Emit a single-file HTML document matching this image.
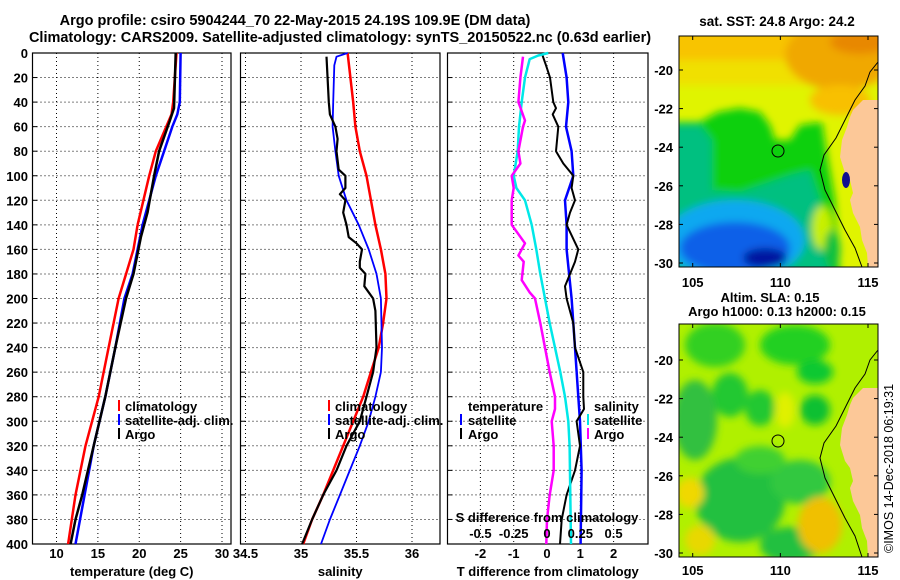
<!DOCTYPE html>
<html><head><meta charset="utf-8"><style>
html,body{margin:0;padding:0;background:#fff;}
svg{display:block;font-family:"Liberation Sans",Arial,sans-serif;font-weight:bold;}
</style></head><body>
<svg id="fig" width="900" height="580" viewBox="0 0 900 580" xmlns="http://www.w3.org/2000/svg">
<defs>
<filter id="blur" x="-20%" y="-20%" width="140%" height="140%"><feGaussianBlur stdDeviation="4"/></filter>
<clipPath id="clipSST"><rect x="679" y="36" width="199" height="231"/></clipPath>
<clipPath id="clipSLA"><rect x="679" y="324" width="199" height="233"/></clipPath>
</defs>
<text x="295" y="25" font-size="14.5" text-anchor="middle">Argo profile: csiro 5904244_70 22-May-2015 24.19S 109.9E (DM data)</text>
<text x="340" y="42" font-size="14.5" text-anchor="middle">Climatology: CARS2009. Satellite-adjusted climatology: synTS_20150522.nc (0.63d earlier)</text>

<!-- SST map -->
<g>
<text x="777" y="26" font-size="13.5" text-anchor="middle">sat. SST: 24.8 Argo: 24.2</text>
<g clip-path="url(#clipSST)">
<rect x="679" y="36" width="199" height="231" fill="#e0f400"/>
<g filter="url(#blur)">
<rect x="670" y="25" width="220" height="40" fill="#f8c400"/>
<rect x="670" y="60" width="220" height="25" fill="#f0e000"/>
<ellipse cx="840" cy="55" rx="55" ry="35" fill="#f0a800"/>
<ellipse cx="860" cy="42" rx="30" ry="12" fill="#e88800"/>
<ellipse cx="840" cy="100" rx="30" ry="15" fill="#f8c000"/>
<path d="M670 122 L700 122 L718 112 L740 108 L760 112 L770 125 L775 140 L790 140 L800 125 L822 122 L828 160 L835 200 L840 275 L670 275 Z" fill="#10d010"/>
<path d="M670 125 L700 125 L712 140 L712 190 L740 192 L790 175 L810 170 L820 200 L830 275 L670 275 Z" fill="#00c080"/>
<ellipse cx="735" cy="240" rx="70" ry="40" fill="#10a8f0"/>
<ellipse cx="735" cy="248" rx="55" ry="26" fill="#1060e8"/>
<ellipse cx="765" cy="258" rx="22" ry="10" fill="#0018a0"/>
<ellipse cx="822" cy="228" rx="10" ry="22" fill="#c8f000"/>
<ellipse cx="832" cy="250" rx="8" ry="20" fill="#10c040"/>
</g>
<polygon points="878,100 863,100 853,110 850,117 847,127 842,140 840,157 845,173 850,180 853,193 850,200 853,213 860,227 862,240 867,253 868,267 878,267" fill="#fcc898"/>
<polyline points="878,62 870,72 865,86 855,100 846,118 836,138 824,155 820,170 825,190 835,210 845,230 855,248 862,267" fill="none" stroke="#000" stroke-width="1"/>
<ellipse cx="846" cy="180" rx="4" ry="8" fill="#101090"/>
</g>
<rect x="679" y="36" width="199" height="231" fill="none" stroke="#000" stroke-width="1"/>
<circle cx="778" cy="151" r="6" fill="none" stroke="#000" stroke-width="1"/>
</g>

<!-- SLA map -->
<g>
<text x="770" y="302" font-size="13" text-anchor="middle">Altim. SLA: 0.15</text>
<text x="777" y="316" font-size="13" text-anchor="middle">Argo h1000: 0.13 h2000: 0.15</text>
<g clip-path="url(#clipSLA)">
<rect x="679" y="324" width="199" height="233" fill="#b0f000"/>
<g filter="url(#blur)">
<ellipse cx="715" cy="345" rx="30" ry="22" fill="#30d020"/>
<ellipse cx="795" cy="345" rx="35" ry="20" fill="#20d020"/>
<ellipse cx="815" cy="372" rx="18" ry="12" fill="#10c830"/>
<ellipse cx="730" cy="395" rx="18" ry="22" fill="#20c830"/>
<ellipse cx="760" cy="408" rx="15" ry="18" fill="#20c830"/>
<ellipse cx="815" cy="410" rx="15" ry="15" fill="#10c030"/>
<ellipse cx="695" cy="420" rx="22" ry="40" fill="#30c040"/>
<ellipse cx="740" cy="500" rx="45" ry="42" fill="#20c040"/>
<ellipse cx="800" cy="482" rx="30" ry="22" fill="#30c840"/>
<ellipse cx="790" cy="545" rx="30" ry="18" fill="#20c040"/>
<ellipse cx="760" cy="460" rx="25" ry="14" fill="#40d030"/>
<ellipse cx="690" cy="493" rx="14" ry="15" fill="#f0d800"/>
<ellipse cx="820" cy="525" rx="22" ry="28" fill="#f0c000"/>
<ellipse cx="700" cy="540" rx="15" ry="15" fill="#e8d800"/>
<ellipse cx="785" cy="410" rx="10" ry="18" fill="#e0f000"/>
</g>
<polygon points="878,388 863,388 853,398 850,405 847,415 842,428 840,445 845,461 850,468 853,481 850,488 853,501 860,515 862,528 867,541 868,557 878,557" fill="#fcc898"/>
<polyline points="878,350 870,360 865,374 855,388 846,406 836,426 824,443 820,458 825,478 835,498 845,518 855,536 862,557" fill="none" stroke="#000" stroke-width="1"/>
</g>
<rect x="679" y="324" width="199" height="233" fill="none" stroke="#000" stroke-width="1"/>
<circle cx="778" cy="441" r="6" fill="none" stroke="#000" stroke-width="1"/>
</g>
<text x="0" y="0" font-size="12.5" font-weight="normal" transform="translate(893,553) rotate(-90)">©IMOS 14-Dec-2018 06:19:31</text>
<g id="charts"></g>
</svg>
<script>
// ---------- data ----------
var depthTicks = [0,20,40,60,80,100,120,140,160,180,200,220,240,260,280,300,320,340,360,380,400];
var tempTicks = [10,15,20,25,30];
var salTicks = [34.5,35,35.5,36];
var salTickLabels = ["34.5","35","35.5","36"];
var tdiffTicks = [-2,-1,0,1,2];
var sdiffTicks = [-0.5,-0.25,0,0.25,0.5];
var sdiffTickLabels = ["-0.5","-0.25","0","0.25","0.5"];

var tClimDepth = [0,40,50,80,100,140,160,200,240,280,320,360,400];
var tClim = [24.5,24.1,23.9,22.0,21.2,19.8,19.3,17.5,16.3,15.1,13.5,12.3,11.4];
var tSatDepth = [0,40,50,60,80,100,140,160,180,200,240,280,320,360,400];
var tSat = [25.0,24.9,24.6,24.0,23.0,22.0,20.4,19.8,19.2,18.2,17.1,15.9,14.5,13.4,12.3];
var tArgoDepth = [0,45,55,80,100,130,150,180,200,240,280,320,360,380,400];
var tArgo = [24.4,24.2,23.7,22.4,21.8,21.0,20.2,19.3,18.4,17.1,15.9,14.5,13.1,12.3,11.7];

var sClimDepth = [0,40,60,80,100,140,160,180,200,220,240,260,280,300,320,340,360,380,400];
var sClim = [35.42,35.47,35.49,35.53,35.59,35.67,35.72,35.76,35.77,35.74,35.70,35.63,35.56,35.47,35.38,35.29,35.20,35.10,35.02];
var sSatDepth = [0,3,10,40,60,80,100,120,140,160,180,200,240,260,280,300,320,340,360,380,400];
var sSat = [35.42,35.32,35.30,35.29,35.285,35.31,35.34,35.41,35.52,35.61,35.68,35.72,35.73,35.72,35.67,35.61,35.53,35.44,35.35,35.26,35.18];
var sArgoDepth = [3,40,50,60,70,80,95,100,110,115,120,130,140,150,155,160,170,175,180,190,200,210,240,260,280,300,320,340,360,380,400];
var sArgo = [35.23,35.25,35.26,35.31,35.33,35.32,35.34,35.40,35.40,35.35,35.40,35.38,35.41,35.43,35.50,35.55,35.53,35.53,35.58,35.57,35.65,35.67,35.68,35.65,35.59,35.53,35.41,35.32,35.20,35.10,35.01];

var dTSatDepth = [0,20,40,60,80,100,120,140,160,200,240,280,300,340,400];
var dTSat = [0.47,0.59,0.64,0.57,0.74,0.79,0.54,0.59,0.59,0.74,0.84,0.94,0.99,1.04,1.01];
var dTArgoDepth = [0,10,20,40,45,50,60,80,90,100,110,120,130,140,160,170,190,200,220,240,260,280,290,300,320,340,360,380,400];
var dTArgo = [-0.16,-0.03,0.09,0.19,0.27,0.17,0.34,0.27,0.49,0.79,0.74,0.84,0.69,0.59,0.94,0.84,0.54,0.59,0.79,0.84,1.09,1.09,1.11,0.89,0.99,0.84,0.59,0.44,0.39];
var dSSatDepth = [0,2,5,20,40,60,80,100,110,120,140,160,180,200,220,240,260,280,300,320,400];
var dSSat = [0.01,-0.065,-0.13,-0.165,-0.19,-0.21,-0.22,-0.25,-0.23,-0.165,-0.115,-0.08,-0.05,-0.015,0.02,0.06,0.10,0.135,0.16,0.17,0.18];
var dSArgoDepth = [3,20,40,55,60,80,90,100,110,120,140,155,165,170,185,195,200,220,240,260,280,290,300,320,340,360,380,400];
var dSArgo = [-0.18,-0.2,-0.215,-0.165,-0.18,-0.215,-0.2,-0.265,-0.25,-0.265,-0.265,-0.165,-0.215,-0.175,-0.19,-0.13,-0.09,-0.05,-0.015,0.02,0.06,0.06,0.035,0.05,0.05,0.02,0,-0.005];

// ---------- drawing ----------
var NS = "http://www.w3.org/2000/svg";
var root = document.getElementById("charts");
var TOP = 53, BOT = 544;
function yD(d){ return TOP + (BOT-TOP)*d/400; }
function lin(d0,d1,r0,r1){ return function(v){ return r0 + (v-d0)*(r1-r0)/(d1-d0); }; }
function mk(tag, attrs, parent){
  var e = document.createElementNS(NS, tag);
  for (var k in attrs) e.setAttribute(k, attrs[k]);
  (parent||root).appendChild(e);
  return e;
}
function txt(s, x, y, anchor, parent){
  var t = mk("text", {x:x, y:y, "font-size":13, "text-anchor":anchor||"middle"}, parent);
  t.textContent = s;
  return t;
}

var panels = [
  {name:"temperature-panel", x0:32.5, x1:231, xs:lin(10,30,56.5,222), ticks:tempTicks, labels:tempTicks.map(String), title:"temperature (deg C)", ylabels:true},
  {name:"salinity-panel", x0:240.5, x1:440, xs:lin(35,36,301,412), ticks:salTicks, labels:salTickLabels, title:"salinity", ylabels:false},
  {name:"difference-panel", x0:447.5, x1:648, xs:lin(0,1,547,580.3), ticks:tdiffTicks, labels:tdiffTicks.map(String), title:"T difference from climatology", ylabels:false}
];

panels.forEach(function(p){
  var g = mk("g", {});
  
  
  depthTicks.forEach(function(d){
    if (d===0||d===400) return;
    var l = mk("line", {x1:p.x0, x2:p.x1, y1:yD(d), y2:yD(d), stroke:"#000", "stroke-width":1, "stroke-dasharray":"1,3"}, g);
    
    
    var tk = mk("line", {x1:p.x0, x2:p.x0+5, y1:yD(d), y2:yD(d), stroke:"#000"}, g);
    
    
  });
  p.ticks.forEach(function(v,i){
    var x = p.xs(v);
    if (x > p.x0+2 && x < p.x1-2) {
      var l = mk("line", {x1:x, x2:x, y1:TOP, y2:BOT, stroke:"#000", "stroke-width":1, "stroke-dasharray":"1,3"}, g);
      
      
    }
    var t = txt(p.labels[i], x, 558, "middle", g);
    
    
  });
  var at = txt(p.title, (p.x0+p.x1)/2, 576, "middle", g);
  
  
  if (p.ylabels) {
    depthTicks.forEach(function(d){
      var t = txt(String(d), 28, yD(d)+5, "end", g);
      
      
    });
  }
  var fr = mk("rect", {x:p.x0, y:TOP, width:p.x1-p.x0, height:BOT-TOP, fill:"none", stroke:"#000", "stroke-width":1.2}, g);
  
  
  p.g = g;
});

function series(g, xs, vals, depths, color, w, name){
  var pts = vals.map(function(v,i){ return xs(v).toFixed(1)+","+yD(depths[i]).toFixed(1); }).join(" ");
  var pl = mk("polyline", {points:pts, fill:"none", stroke:color, "stroke-width":w, "stroke-linejoin":"round"}, g);
  
  
}
var P0 = panels[0], P1 = panels[1], P2 = panels[2];
series(P0.g, P0.xs, tClim, tClimDepth, "#ff0000", 2.5, "temp-climatology-line");
series(P0.g, P0.xs, tSat, tSatDepth, "#0000ff", 2.5, "temp-satellite-line");
series(P0.g, P0.xs, tArgo, tArgoDepth, "#000000", 2.5, "temp-argo-line");
series(P1.g, P1.xs, sClim, sClimDepth, "#ff0000", 2.5, "sal-climatology-line");
series(P1.g, P1.xs, sSat, sSatDepth, "#0000ff", 1.8, "sal-satellite-line");
series(P1.g, P1.xs, sArgo, sArgoDepth, "#000000", 2.2, "sal-argo-line");
var sdx = lin(0,0.25,547,580.3);
series(P2.g, P2.xs, dTSat, dTSatDepth, "#0000ff", 2.5, "tdiff-satellite-line");
series(P2.g, P2.xs, dTArgo, dTArgoDepth, "#000000", 2, "tdiff-argo-line");
series(P2.g, sdx, dSSat, dSSatDepth, "#00e8e8", 2.5, "sdiff-satellite-line");
series(P2.g, sdx, dSArgo, dSArgoDepth, "#ff00ff", 2.5, "sdiff-argo-line");

var st = txt("S difference from climatology", 547, 522, "middle", P2.g);


sdiffTicks.forEach(function(v,i){
  var t = txt(sdiffTickLabels[i], sdx(v), 538, "middle", P2.g);
  
  
});

function legend(g, mx, tx, y, color, label, name){
  var m = mk("line", {x1:mx, x2:mx, y1:y-11, y2:y, stroke:color, "stroke-width":2}, g);
  
  
  var t = txt(label, tx, y, "start", g);
  
  
}
var LY = [411, 425, 439];
legend(P0.g, 119, 125, LY[0], "#ff0000", "climatology", "legend-climatology");
legend(P0.g, 119, 125, LY[1], "#0000ff", "satellite-adj. clim.", "legend-satellite");
legend(P0.g, 119, 125, LY[2], "#000000", "Argo", "legend-argo");
legend(P1.g, 329, 335, LY[0], "#ff0000", "climatology", "legend-sal-climatology");
legend(P1.g, 329, 335, LY[1], "#0000ff", "satellite-adj. clim.", "legend-sal-satellite");
legend(P1.g, 329, 335, LY[2], "#000000", "Argo", "legend-sal-argo");
var lt = txt("temperature", 468, LY[0], "start", P2.g);


legend(P2.g, 461, 468, LY[1], "#0000ff", "satellite", "legend-tdiff-satellite");
legend(P2.g, 461, 468, LY[2], "#000000", "Argo", "legend-tdiff-argo");
var ls = txt("salinity", 594, LY[0], "start", P2.g);


legend(P2.g, 588, 594, LY[1], "#00e8e8", "satellite", "legend-sdiff-satellite");
legend(P2.g, 588, 594, LY[2], "#ff00ff", "Argo", "legend-sdiff-argo");

function mapAxes(x0,x1,yTop,yBot,lat20y,lat30y,lonY,prefix){
  var g = mk("g", {});
  
  
  var lx = lin(105,115,692.7,868);
  [105,110,115].forEach(function(v){
    var t = txt(String(v), lx(v), lonY, "middle", g);
    
    
    mk("line",{x1:lx(v),x2:lx(v),y1:yTop,y2:yTop+4,stroke:"#000"},g);
    mk("line",{x1:lx(v),x2:lx(v),y1:yBot,y2:yBot-4,stroke:"#000"},g);
  });
  var ly = lin(-20,-30,lat20y,lat30y);
  [-20,-22,-24,-26,-28,-30].forEach(function(v){
    var t = txt(String(v), 673, ly(v)+5, "end", g);
    
    
    mk("line",{x1:x0,x2:x0+4,y1:ly(v),y2:ly(v),stroke:"#000"},g);
    mk("line",{x1:x1,x2:x1-4,y1:ly(v),y2:ly(v),stroke:"#000"},g);
  });
}
mapAxes(679,878,36,267,70,263,287,"sst-map");
mapAxes(679,878,324,557,360,553,575,"sla-map");
</script>
</body></html>
